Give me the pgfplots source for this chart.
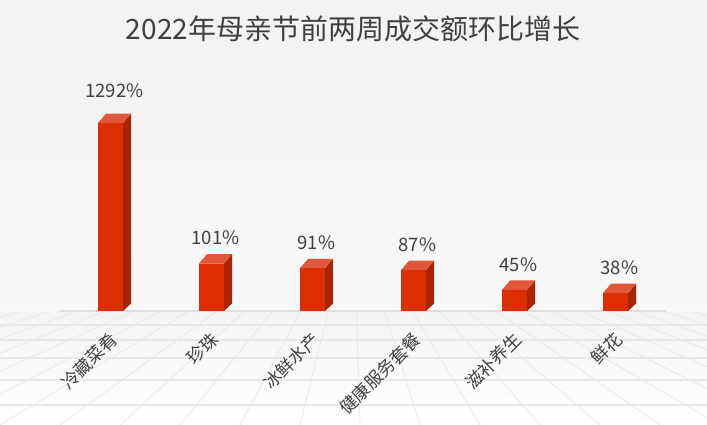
\documentclass[border=0pt]{standalone}
\usepackage{pgfplots}
\pgfplotsset{compat=1.18}
\usepackage{pgfplotstable}
\usepackage{fontspec}
\setmainfont{Noto Sans CJK SC}
\definecolor{barfront}{HTML}{DC2E00}
\definecolor{barside}{HTML}{A92400}
\definecolor{bartop}{HTML}{E25639}
\definecolor{txt}{HTML}{404040}

% bar height as drawn (first bar is cut short), label as printed
\pgfplotstableread{
x h lab
0 400 1292
1 101 101
2 91 91
3 87 87
4 45 45
5 38 38
}\datatable

\pgfplotsset{
  barlab/.style={ybar, bar width=25pt, bar shift=0pt, fill=barfront, draw=none,
    point meta=explicit symbolic,
    nodes near coords={\pgfplotspointmeta\%},
    every node near coord/.append style={font=\fontsize{18.5}{20}\selectfont,
      text=txt, xshift=4pt, yshift=#1}},
}

\begin{document}
\begin{tikzpicture}
\path[use as bounding box] (0pt,0pt) rectangle (707pt,425pt);
% backdrop and floor grid
\shade[top color=gray!10, bottom color=gray!5] (0pt,113pt) rectangle (707pt,425pt);
\shade[top color=gray!8, bottom color=white] (0pt,0pt) rectangle (707pt,113pt);
\begin{scope}[x=1pt,y=1pt]
  \clip (0,0) rectangle (707,112);
  \foreach \bx in {-1200,-1140,...,1900}
    \draw[gray!17, line width=0.8pt] (353.5,213) -- (\bx,0);
  \foreach \hy in {100,85,67,45,20}
    \draw[gray!17, line width=1.3pt] (0,\hy) -- (707,\hy);
\end{scope}
\node[font=\fontsize{28}{32}\selectfont, text=txt] at (353pt,396pt) {2022年母亲节前两周成交额环比增长};

\begin{axis}[
    at={(110.5pt,114pt)}, anchor=origin,
    scale only axis,
    width=606pt, height=282pt,
    xmin=-0.5, xmax=5.5,
    ymin=0, ymax=600,
    clip=false,
    axis y line=none,
    axis x line*=bottom,
    x axis line style={gray!25, line width=1.5pt, -},
    major tick length=0pt,
    xtick={0,...,5},
    xticklabels={冷藏菜肴,珍珠,冰鲜水产,健康服务套餐,滋补养生,鲜花},
    xticklabel style={xshift=6pt, yshift=-23pt, rotate=45, anchor=east,
      font=\fontsize{17.5}{19}\selectfont, text=txt},
  ]
  \addplot[barlab=22pt, skip coords between index={1}{6}]
    table[x=x, y=h, meta=lab] {\datatable};
  \addplot[barlab=15pt, skip coords between index={0}{1}]
    table[x=x, y=h, meta=lab] {\datatable};

  \pgfplotsforeachungrouped \i/\h in {0/400,1/101,2/91,3/87,4/45,5/38}{
    \pgfmathsetmacro\xl{\i-0.124}
    \pgfmathsetmacro\xr{\i+0.124}
    \pgfmathsetmacro\xlb{\i-0.044}
    \pgfmathsetmacro\xrb{\i+0.204}
    \pgfmathsetmacro\hb{\h+20}
    \edef\temp{\noexpand\addplot[fill=barside, draw=none, forget plot]
      coordinates {(\xr,0) (\xrb,16) (\xrb,\hb) (\xr,\h)} -- cycle;
      \noexpand\addplot[fill=bartop, draw=none, forget plot]
      coordinates {(\xl,\h) (\xr,\h) (\xrb,\hb) (\xlb,\hb)} -- cycle;}
    \temp
  }
\end{axis}
\end{tikzpicture}
\end{document}
